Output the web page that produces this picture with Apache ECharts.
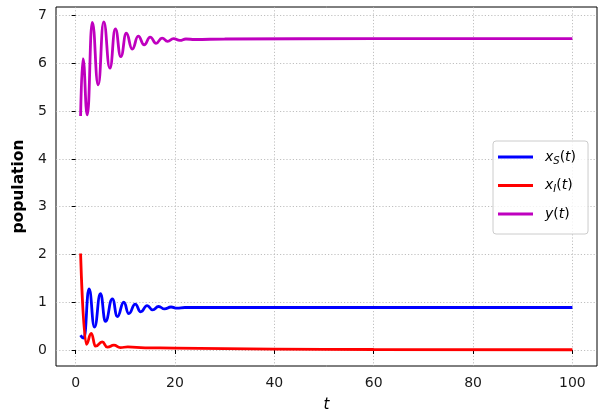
<!DOCTYPE html>
<html>
<head>
<meta charset="utf-8">
<script src="https://cdn.jsdelivr.net/npm/echarts@6/dist/echarts.min.js"></script>
<style>
  html, body { margin: 0; padding: 0; background: #fff; }
  #chart { width: 600px; height: 413px; }
</style>
</head>
<body>
<div id="chart"></div>
<script>
// values (extrema of the damped oscillations)
const tS = [1, 1.67, 2.7, 3.8, 5.0, 6.0, 7.4, 8.4, 9.7, 10.7, 12.0, 13.1, 14.4, 15.5, 16.7, 17.9, 19.2, 20.4, 22, 25, 40, 100]
const xS = [0.31, 0.25, 1.28, 0.48, 1.18, 0.60, 1.07, 0.70, 1.00, 0.76, 0.96, 0.80, 0.93, 0.84, 0.91, 0.86, 0.90, 0.875, 0.89, 0.89, 0.89, 0.89]

const tI = [1, 2.15, 3.15, 4.0, 5.35, 6.4, 7.7, 9.0, 10.5, 14, 20, 40, 60, 100]
const xI = [2.02, 0.12, 0.35, 0.08, 0.17, 0.06, 0.10, 0.05, 0.065, 0.045, 0.04, 0.02, 0.01, 0.005]

const tY = [1, 1.47, 2.35, 3.35, 4.55, 5.65, 6.9, 8.0, 9.1, 10.2, 11.4, 12.6, 13.8, 15.0, 16.2, 17.4, 18.5, 19.7, 21, 22.2, 24, 30, 60, 100]
const yY = [4.9, 6.1, 4.92, 6.86, 5.55, 6.87, 5.9, 6.72, 6.14, 6.63, 6.3, 6.57, 6.39, 6.55, 6.42, 6.53, 6.46, 6.52, 6.48, 6.51, 6.5, 6.51, 6.52, 6.52]

const xTicks = [0, 20, 40, 60, 80, 100]
const yTicks = [0, 1, 2, 3, 4, 5, 6, 7]

const seriesNames = ['xS', 'xI', 'y']
const legendLabels = {
    xS: '{i|x}{sub|S}{r|(}{i|t}{r|)}',
    xI: '{i|x}{sub|I}{r|(}{i|t}{r|)}',
    y: '{i|y}{r|(}{i|t}{r|)}'
}

function pairs(ts, vs) {
    return ts.map((t, k) => [t, vs[k]])
}

const font = 'DejaVu Sans'
const gridLine = { show: true, lineStyle: { color: '#b0b0b0', width: 0.8, type: [1.2, 2] } }

function lineSeries(name, ts, vs, color) {
    return {
        name: name,
        type: 'line',
        data: pairs(ts, vs),
        showSymbol: false,
        symbol: 'none',
        smooth: 0.5,
        smoothMonotone: 'x',
        lineStyle: { color: color, width: 2.8 },
        itemStyle: { color: color }
    }
}

let option = {
    animation: false,
    backgroundColor: '#fff',
    textStyle: { fontFamily: font },
    grid: {
        left: 56, right: 3, top: 7, bottom: 47,
        outerBoundsMode: 'none',
        show: true, borderColor: '#000', borderWidth: 1, backgroundColor: 'transparent'
    },
    legend: {
        orient: 'vertical',
        left: 493, top: 141,
        data: seriesNames,
        icon: 'rect',
        itemWidth: 35, itemHeight: 3,
        itemGap: 12.5,
        padding: [9, 12, 13, 5],
        borderColor: '#cccccc', borderWidth: 1, borderRadius: 3,
        backgroundColor: 'rgba(255,255,255,0.8)',
        formatter: name => legendLabels[name],
        textStyle: {
            padding: [0, 0, 0, 7],
            rich: {
                i: { fontFamily: font, fontStyle: 'italic', fontSize: 14, color: '#000', lineHeight: 18, verticalAlign: 'middle' },
                r: { fontFamily: font, fontSize: 14, color: '#000', lineHeight: 18, verticalAlign: 'middle' },
                sub: { fontFamily: font, fontStyle: 'italic', fontSize: 10, color: '#000', lineHeight: 10, verticalAlign: 'bottom', padding: [6, 0, 0, 0] }
            }
        }
    },
    xAxis: {
        type: 'value',
        min: -3.95, max: 104.95,
        splitNumber: 5,
        name: 't',
        nameLocation: 'middle',
        nameGap: 32,
        nameTextStyle: { fontFamily: font, fontStyle: 'italic', fontSize: 15, color: '#000' },
        axisLine: { show: false },
        axisTick: { show: true, inside: false, length: 4, customValues: xTicks, lineStyle: { color: '#000' } },
        axisLabel: { customValues: xTicks, margin: 10, fontSize: 14, color: '#1a1a1a', fontFamily: font },
        splitLine: gridLine
    },
    yAxis: {
        type: 'value',
        min: -0.335, max: 7.18,
        splitNumber: 7,
        name: 'population',
        nameLocation: 'middle',
        nameGap: 29,
        nameTextStyle: { fontFamily: font, fontWeight: 'bold', fontSize: 15.5, color: '#000' },
        axisLine: { show: false },
        axisTick: { show: true, inside: false, length: 4, customValues: yTicks, lineStyle: { color: '#000' } },
        axisLabel: { customValues: yTicks, margin: 9, fontSize: 14, color: '#1a1a1a', fontFamily: font },
        splitLine: gridLine
    },
    series: [
        lineSeries('xS', tS, xS, '#0000ff'),
        lineSeries('xI', tI, xI, '#ff0000'),
        lineSeries('y', tY, yY, '#bf00bf')
    ]
}

let mychart = echarts.init(document.getElementById('chart'))
mychart.setOption(option)
</script>
</body>
</html>
